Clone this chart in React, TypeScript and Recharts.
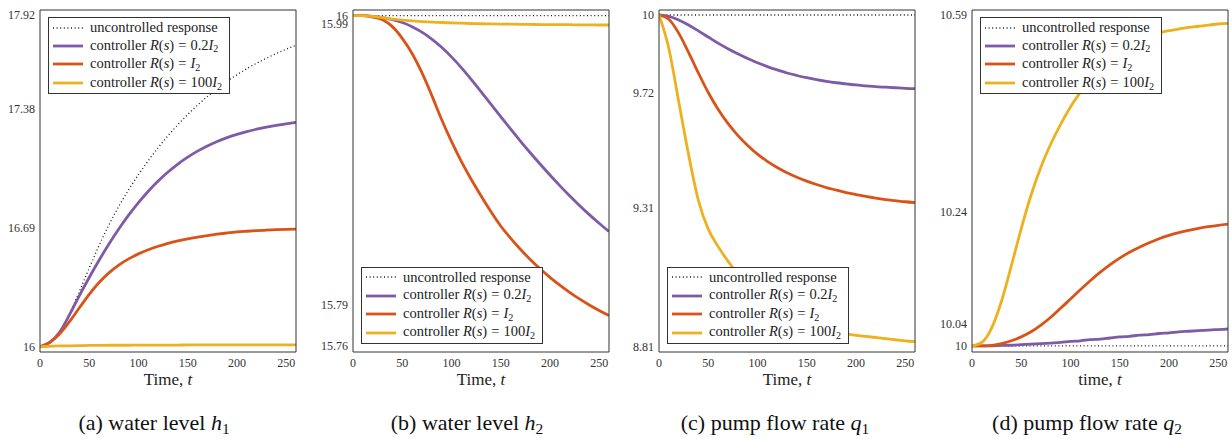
import { LineChart, Line, XAxis, YAxis, Legend } from 'recharts';
import type { ReactNode } from 'react';

// sample times shared by every panel
const time = [0, 10, 20, 30, 40, 50, 60, 70, 80, 90, 100, 110, 120, 130, 140, 150, 160, 170, 180, 190, 200, 210, 220, 230, 240, 250, 260];
const xTicks = [0, 50, 100, 150, 200, 250];

// (a) water level h1
const h1Uncontrolled = [16.0, 16.02, 16.08, 16.19, 16.32, 16.455, 16.585, 16.705, 16.812, 16.908, 16.996, 17.077, 17.152, 17.221, 17.285, 17.344, 17.398, 17.448, 17.494, 17.536, 17.574, 17.609, 17.641, 17.67, 17.697, 17.722, 17.745];
const h1R02 = [16.0, 16.025, 16.085, 16.185, 16.295, 16.4, 16.5, 16.594, 16.681, 16.761, 16.834, 16.9, 16.959, 17.011, 17.057, 17.097, 17.132, 17.162, 17.188, 17.21, 17.229, 17.245, 17.259, 17.271, 17.281, 17.29, 17.298];
const h1R1 = [16.0, 16.025, 16.075, 16.145, 16.225, 16.303, 16.371, 16.427, 16.472, 16.508, 16.537, 16.561, 16.581, 16.598, 16.612, 16.624, 16.634, 16.643, 16.651, 16.658, 16.664, 16.668, 16.6715, 16.6745, 16.677, 16.679, 16.6805];
const h1R100 = [16.0, 16.002, 16.004, 16.005, 16.006, 16.007, 16.007, 16.008, 16.008, 16.008, 16.009, 16.009, 16.009, 16.009, 16.009, 16.01, 16.01, 16.01, 16.01, 16.01, 16.01, 16.01, 16.01, 16.01, 16.01, 16.01, 16.01];
const h1Ticks = [16, 16.69, 17.38, 17.92];

// (b) water level h2
const h2Uncontrolled = [16, 16, 16, 16, 16, 16, 16, 16, 16, 16, 16, 16, 16, 16, 16, 16, 16, 16, 16, 16, 16, 16, 16, 16, 16, 16, 16];
const h2R02 = [16.0, 16.0, 15.9995, 15.9985, 15.997, 15.995, 15.992, 15.988, 15.983, 15.977, 15.97, 15.9622, 15.9537, 15.9448, 15.9357, 15.9266, 15.9176, 15.9088, 15.9003, 15.8921, 15.8841, 15.8764, 15.869, 15.862, 15.8553, 15.849, 15.843];
const h2R1 = [16.0, 16.0, 15.999, 15.997, 15.992, 15.9835, 15.9725, 15.9585, 15.942, 15.9245, 15.9085, 15.894, 15.881, 15.869, 15.8575, 15.847, 15.8382, 15.8301, 15.8227, 15.8159, 15.8097, 15.804, 15.7988, 15.794, 15.7896, 15.7856, 15.7819];
const h2R100 = [16.0, 16.0, 15.9995, 15.9985, 15.9975, 15.9968, 15.9962, 15.9957, 15.9953, 15.995, 15.9947, 15.9945, 15.9943, 15.9941, 15.994, 15.9939, 15.9938, 15.9937, 15.9936, 15.9935, 15.9935, 15.9934, 15.9934, 15.9933, 15.9933, 15.9932, 15.9932];
const h2Ticks = [15.76, 15.79, 15.9938, 16];

// (c) pump flow rate q1
const q1Uncontrolled = [10, 10, 10, 10, 10, 10, 10, 10, 10, 10, 10, 10, 10, 10, 10, 10, 10, 10, 10, 10, 10, 10, 10, 10, 10, 10, 10];
const q1R02 = [10.0, 9.995, 9.982, 9.964, 9.943, 9.921, 9.899, 9.879, 9.861, 9.844, 9.829, 9.815, 9.803, 9.792, 9.783, 9.775, 9.768, 9.762, 9.757, 9.753, 9.749, 9.746, 9.743, 9.741, 9.739, 9.737, 9.736];
const q1R1 = [10.0, 9.985, 9.935, 9.866, 9.792, 9.722, 9.662, 9.611, 9.568, 9.532, 9.501, 9.475, 9.453, 9.434, 9.418, 9.404, 9.392, 9.381, 9.372, 9.363, 9.356, 9.349, 9.343, 9.338, 9.334, 9.33, 9.327];
const q1R100 = [10.0, 9.88, 9.69, 9.5, 9.335, 9.232, 9.17, 9.117, 9.071, 9.03, 8.992, 8.96, 8.934, 8.913, 8.897, 8.885, 8.875, 8.867, 8.861, 8.856, 8.851, 8.847, 8.843, 8.839, 8.835, 8.831, 8.828];
const q1Ticks = [8.81, 9.31, 9.72, 10];

// (d) pump flow rate q2
const q2Uncontrolled = [10, 10, 10, 10, 10, 10, 10, 10, 10, 10, 10, 10, 10, 10, 10, 10, 10, 10, 10, 10, 10, 10, 10, 10, 10, 10, 10];
const q2R02 = [10.0, 10.0, 10.0, 10.001, 10.001, 10.002, 10.003, 10.004, 10.005, 10.006, 10.008, 10.009, 10.011, 10.012, 10.014, 10.016, 10.017, 10.019, 10.02, 10.022, 10.023, 10.025, 10.026, 10.027, 10.028, 10.029, 10.03];
const q2R1 = [10.0, 10.0, 10.001, 10.004, 10.009, 10.016, 10.025, 10.037, 10.051, 10.067, 10.0835, 10.1, 10.116, 10.131, 10.1445, 10.1565, 10.167, 10.176, 10.184, 10.191, 10.197, 10.202, 10.206, 10.2095, 10.2125, 10.215, 10.217];
const q2R100 = [10.0, 10.006, 10.032, 10.08, 10.143, 10.209, 10.269, 10.319, 10.36, 10.395, 10.426, 10.452, 10.475, 10.495, 10.512, 10.526, 10.537, 10.546, 10.553, 10.558, 10.562, 10.565, 10.568, 10.57, 10.572, 10.574, 10.575];
const q2Ticks = [10, 10.04, 10.24, 10.59];

const FONT = '"Liberation Serif", "Times New Roman", "DejaVu Serif", serif';
const Y_AXIS_W = 45;
const PLOT_W = 256;
const CHART_H = 400;

const series = [
  { key: 'unc', color: '#1a1a1a', width: 1.3, dash: '1 2.6' },
  { key: 'r02', color: '#7D5BA6', width: 2.8, dash: undefined },
  { key: 'r1', color: '#D95319', width: 2.8, dash: undefined },
  { key: 'r100', color: '#EDB120', width: 2.8, dash: undefined },
];

const sub = (s: string) => (
  <span style={{ fontSize: '0.7em', position: 'relative', top: '0.28em' }}>{s}</span>
);

const eq = <span style={{ margin: '0 4px' }}>=</span>;

const legendLabels: ReactNode[] = [
  <>uncontrolled response</>,
  <>controller <i>R</i>(<i>s</i>){eq}0.2<i>I</i>{sub('2')}</>,
  <>controller <i>R</i>(<i>s</i>){eq}<i>I</i>{sub('2')}</>,
  <>controller <i>R</i>(<i>s</i>){eq}100<i>I</i>{sub('2')}</>,
];

const LegendBox = () => (
  <div
    style={{
      border: '1px solid #333',
      background: '#fff',
      padding: '1px 7px 1px 4px',
      fontFamily: FONT,
      fontSize: 14.5,
      lineHeight: '17.6px',
      color: '#222',
    }}
  >
    {series.map((s, i) => (
      <div key={s.key} style={{ display: 'flex', alignItems: 'center', whiteSpace: 'nowrap' }}>
        <svg width={30} height={6} style={{ marginRight: 7, flex: 'none' }}>
          <line x1={0} y1={3} x2={30} y2={3} stroke={s.color} strokeWidth={s.width} strokeDasharray={s.dash} />
        </svg>
        <span>{legendLabels[i]}</span>
      </div>
    ))}
  </div>
);

const build = (u: number[], a: number[], b: number[], c: number[]) =>
  time.map((t, i) => ({ t, unc: u[i], r02: a[i], r1: b[i], r100: c[i] }));

const fmt = (v: number) => String(Number(v.toFixed(2)));

type PanelProps = {
  plotLeft: number;
  rows: ReturnType<typeof build>;
  yDomain: [number, number];
  yTicks: number[];
  legendTop: boolean;
  xTitle: string;
  caption: ReactNode;
  captionX: number;
};

const Panel = ({ plotLeft, rows, yDomain, yTicks, legendTop, xTitle, caption, captionX }: PanelProps) => {
  const legendPos = legendTop
    ? { left: Y_AXIS_W + 8, top: 17 }
    : { left: Y_AXIS_W + 8, bottom: 56 };
  return (
    <>
      <div style={{ position: 'absolute', left: plotLeft - Y_AXIS_W, top: 0 }}>
        <LineChart
          width={Y_AXIS_W + PLOT_W + 2}
          height={CHART_H}
          data={rows}
          margin={{ top: 10, right: 2, bottom: 0, left: 0 }}
        >
          <XAxis
            dataKey="t"
            type="number"
            domain={[0, 260]}
            ticks={xTicks}
            interval={0}
            allowDataOverflow
            height={48}
            axisLine={false}
            tickLine={false}
            tickSize={0}
            tickMargin={6}
            tick={{ fontFamily: FONT, fontSize: 12, fill: '#333' }}
          />
          <YAxis
            type="number"
            domain={yDomain}
            ticks={yTicks}
            interval={0}
            allowDataOverflow
            width={Y_AXIS_W}
            axisLine={false}
            tickLine={false}
            tickSize={0}
            tickMargin={5}
            tickFormatter={fmt}
            tick={{ fontFamily: FONT, fontSize: 12, fill: '#333' }}
          />
          {/* inward ticks and frame on all four sides */}
          <XAxis xAxisId="top" orientation="top" mirror dataKey="t" type="number" domain={[0, 260]} ticks={xTicks} interval={0} allowDataOverflow tick={false} tickSize={4} stroke="#333" />
          <XAxis xAxisId="bot" orientation="bottom" mirror dataKey="t" type="number" domain={[0, 260]} ticks={xTicks} interval={0} allowDataOverflow tick={false} tickSize={4} stroke="#333" />
          <YAxis yAxisId="lft" orientation="left" mirror type="number" domain={yDomain} ticks={yTicks} interval={0} allowDataOverflow tick={false} tickSize={4} stroke="#333" />
          <YAxis yAxisId="rgt" orientation="right" mirror type="number" domain={yDomain} ticks={yTicks} interval={0} allowDataOverflow tick={false} tickSize={4} stroke="#333" />
          {series.map((s) => (
            <Line
              key={s.key}
              dataKey={s.key}
              type="monotone"
              stroke={s.color}
              strokeWidth={s.width}
              strokeDasharray={s.dash}
              dot={false}
              activeDot={false}
              isAnimationActive={false}
            />
          ))}
          <Legend
            layout="horizontal"
            align="center"
            verticalAlign="middle"
            wrapperStyle={{ ...legendPos, width: 'auto', height: 'auto' }}
            content={() => <LegendBox />}
          />
        </LineChart>
      </div>
      <div
        style={{
          position: 'absolute',
          left: plotLeft,
          width: PLOT_W,
          top: 370,
          textAlign: 'center',
          fontFamily: FONT,
          fontSize: 17,
          lineHeight: '20px',
          color: '#222',
        }}
      >
        {xTitle}, <i>t</i>
      </div>
      <div
        style={{
          position: 'absolute',
          left: captionX,
          top: 410,
          transform: 'translateX(-50%)',
          whiteSpace: 'nowrap',
          fontFamily: FONT,
          fontSize: 22,
          lineHeight: '26px',
          color: '#111',
        }}
      >
        {caption}
      </div>
    </>
  );
};

const App = () => (
  <div style={{ position: 'absolute', left: 0, top: 0, width: 1232, height: 439, background: '#fff', overflow: 'hidden' }}>
    <Panel
      plotLeft={40}
      rows={build(h1Uncontrolled, h1R02, h1R1, h1R100)}
      yDomain={[15.969, 17.949]}
      yTicks={h1Ticks}
      legendTop
      xTitle="Time"
      caption={<>(a) water level <i>h</i>{sub('1')}</>}
      captionX={154}
    />
    <Panel
      plotLeft={353}
      rows={build(h2Uncontrolled, h2R02, h2R1, h2R100)}
      yDomain={[15.7554, 16.0041]}
      yTicks={h2Ticks}
      legendTop={false}
      xTitle="Time"
      caption={<>(b) water level <i>h</i>{sub('2')}</>}
      captionX={467}
    />
    <Panel
      plotLeft={659}
      rows={build(q1Uncontrolled, q1R02, q1R1, q1R100)}
      yDomain={[8.791, 10.018]}
      yTicks={q1Ticks}
      legendTop={false}
      xTitle="Time"
      caption={<>(c) pump flow rate <i>q</i>{sub('1')}</>}
      captionX={775}
    />
    <Panel
      plotLeft={972}
      rows={build(q2Uncontrolled, q2R02, q2R1, q2R100)}
      yDomain={[9.989, 10.599]}
      yTicks={q2Ticks}
      legendTop
      xTitle="time"
      caption={<>(d) pump flow rate <i>q</i>{sub('2')}</>}
      captionX={1087}
    />
  </div>
);

export default App;
